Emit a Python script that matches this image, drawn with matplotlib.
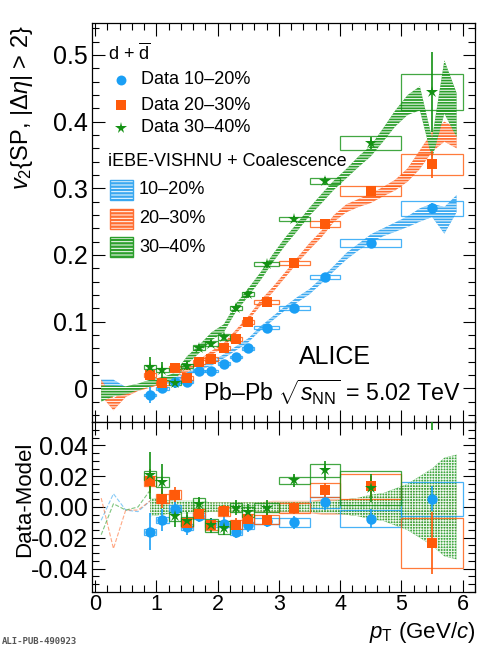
import numpy as np
import matplotlib
matplotlib.use('Agg')
import matplotlib.pyplot as plt
from matplotlib.patches import Rectangle
from matplotlib.ticker import MultipleLocator, FormatStrFormatter

plt.rcParams['font.family'] = 'Liberation Sans'
plt.rcParams['mathtext.fontset'] = 'custom'
plt.rcParams['mathtext.rm'] = 'Liberation Sans'
plt.rcParams['mathtext.it'] = 'Liberation Sans:italic'
plt.rcParams['mathtext.bf'] = 'Liberation Sans:bold'
plt.rcParams['hatch.linewidth'] = 0.7

# data points (pT bin centres and edges)
pt = [0.9, 1.1, 1.3, 1.5, 1.7, 1.9, 2.1, 2.3, 2.5, 2.8, 3.25, 3.75, 4.5, 5.5]
pt_lo = [0.8, 1.0, 1.2, 1.4, 1.6, 1.8, 2.0, 2.2, 2.4, 2.6, 3.0, 3.5, 4.0, 5.0]
pt_hi = [1.0, 1.2, 1.4, 1.6, 1.8, 2.0, 2.2, 2.4, 2.6, 3.0, 3.5, 4.0, 5.0, 6.0]

v2_1020 = [-0.01, 0.0, 0.01, 0.01, 0.026, 0.026, 0.037, 0.047, 0.06, 0.091, 0.12, 0.167, 0.218, 0.27]
stat_1020 = [0.012, 0.007, 0.005, 0.005, 0.004, 0.004, 0.004, 0.004, 0.004, 0.004, 0.004, 0.005, 0.006, 0.008]
syst_1020 = [0.002, 0.002, 0.002, 0.002, 0.002, 0.002, 0.002, 0.002, 0.002, 0.002, 0.003, 0.0035, 0.0055, 0.011]

v2_2030 = [0.02, 0.0075, 0.031, 0.015, 0.039, 0.044, 0.061, 0.074, 0.10, 0.13, 0.1875, 0.246, 0.296, 0.336]
stat_2030 = [0.008, 0.006, 0.005, 0.005, 0.004, 0.004, 0.004, 0.004, 0.004, 0.004, 0.004, 0.005, 0.007, 0.02]
syst_2030 = [0.003, 0.003, 0.003, 0.003, 0.003, 0.003, 0.003, 0.003, 0.003, 0.003, 0.003, 0.0045, 0.008, 0.016]

v2_3040 = [0.0315, 0.027, 0.008, 0.033, 0.061, 0.067, 0.077, 0.121, 0.141, 0.186, 0.254, 0.311, 0.368, 0.444]
stat_3040 = [0.015, 0.012, 0.007, 0.006, 0.005, 0.005, 0.005, 0.005, 0.005, 0.005, 0.004, 0.006, 0.009, 0.06]
syst_3040 = [0.003, 0.003, 0.003, 0.003, 0.004, 0.004, 0.004, 0.003, 0.003, 0.003, 0.0025, 0.004, 0.011, 0.027]

# iEBE-VISHNU + coalescence
model_pt = [0.1, 0.3, 0.5, 0.7, 0.9, 1.1, 1.3, 1.5, 1.7, 1.9, 2.1, 2.3, 2.5, 2.7, 2.9,
            3.1, 3.3, 3.5, 3.7, 3.9, 4.1, 4.3, 4.5, 4.7, 4.9, 5.1, 5.3, 5.5, 5.7, 5.9]
model_1020 = [0.004, 0.006, -0.002, 0.0, 0.005, 0.009, 0.012, 0.021, 0.03, 0.037, 0.048, 0.06, 0.072, 0.09, 0.105,
              0.12, 0.133, 0.145, 0.162, 0.18, 0.198, 0.212, 0.225, 0.234, 0.242, 0.25, 0.26, 0.267, 0.252, 0.277]
model_1020_err = [0.009, 0.007, 0.004, 0.003, 0.003, 0.003, 0.003, 0.003, 0.003, 0.003, 0.003, 0.003, 0.003, 0.003, 0.003,
                  0.003, 0.004, 0.004, 0.004, 0.004, 0.005, 0.005, 0.006, 0.006, 0.007, 0.008, 0.01, 0.01, 0.02, 0.013]
model_2030 = [0.001, -0.024, -0.008, 0.0, 0.005, 0.01, 0.02, 0.027, 0.04, 0.053, 0.065, 0.085, 0.105, 0.128, 0.148,
              0.17, 0.192, 0.213, 0.232, 0.255, 0.27, 0.278, 0.285, 0.295, 0.305, 0.32, 0.343, 0.37, 0.385, 0.375]
model_2030_err = [0.012, 0.009, 0.005, 0.004, 0.004, 0.003, 0.003, 0.003, 0.003, 0.003, 0.003, 0.003, 0.003, 0.004, 0.004,
                  0.004, 0.004, 0.005, 0.005, 0.005, 0.006, 0.006, 0.007, 0.007, 0.008, 0.01, 0.014, 0.015, 0.015, 0.015]
model_3040 = [-0.008, -0.004, -0.003, 0.002, 0.008, 0.012, 0.018, 0.042, 0.059, 0.078, 0.09, 0.121, 0.144, 0.168, 0.195,
              0.22, 0.242, 0.265, 0.285, 0.305, 0.322, 0.34, 0.356, 0.38, 0.405, 0.425, 0.435, 0.36, 0.452, 0.41]
model_3040_err = [0.012, 0.008, 0.006, 0.005, 0.005, 0.005, 0.005, 0.006, 0.006, 0.006, 0.006, 0.006, 0.006, 0.006, 0.006,
                  0.006, 0.006, 0.006, 0.007, 0.007, 0.007, 0.008, 0.008, 0.01, 0.012, 0.015, 0.018, 0.015, 0.04, 0.033]

# Data - Model
diff_1020 = [-0.0162, -0.0086, -0.001, -0.013, -0.006, -0.0113, -0.0108, -0.0162, -0.012, -0.009, -0.010, 0.003, -0.0076, 0.0054]
diff_2030 = [0.0169, 0.0054, 0.008, -0.0101, -0.0043, -0.0119, -0.0028, -0.0114, -0.0076, -0.0082, -0.0006, 0.0108, 0.0134, -0.0233]
diff_3040 = [0.0205, 0.0162, -0.0061, -0.0093, 0.0017, -0.012, -0.0134, -0.0004, -0.0032, -0.0004, 0.0173, 0.0238, 0.0125, 0.11]

# model uncertainty in lower panel (pT >= 0.9)
ratio_pt = model_pt[4:]
ratio_err_1020 = [0.003, 0.002, 0.002, 0.002, 0.002, 0.002, 0.002, 0.002, 0.002, 0.002, 0.002, 0.002, 0.002, 0.003,
                  0.003, 0.003, 0.004, 0.004, 0.005, 0.006, 0.008, 0.01, 0.012, 0.014, 0.018, 0.016]
ratio_err_2030 = [0.004, 0.003, 0.003, 0.003, 0.003, 0.003, 0.003, 0.003, 0.003, 0.003, 0.004, 0.004, 0.004, 0.004,
                  0.005, 0.005, 0.005, 0.006, 0.007, 0.008, 0.01, 0.012, 0.015, 0.015, 0.016, 0.016]
ratio_err_3040 = [0.006, 0.005, 0.004, 0.004, 0.004, 0.003, 0.003, 0.003, 0.003, 0.003, 0.003, 0.003, 0.003, 0.003,
                  0.004, 0.004, 0.005, 0.006, 0.008, 0.009, 0.012, 0.015, 0.02, 0.025, 0.032, 0.034]
# low-pT model curves in lower panel
low_pt = [0.1, 0.3, 0.5, 0.7, 0.9]
low_1020 = [-0.0086, 0.0086, -0.002, -0.003, 0.004]
low_2030 = [0.0058, -0.027, -0.002, -0.002, 0.004]
low_3040 = [-0.018, 0.0021, -0.002, 0.0, 0.011]

c_blue = '#1a9ff5'
c_orange = '#ff5a0a'
c_green = '#139113'
b_blue = '#3aa8f0'
b_orange = '#ff6e32'
b_green = '#2c9f2c'

fig = plt.figure(figsize=(5.02, 6.5), dpi=100)
ax1 = fig.add_axes([92 / 502, 1 - 422 / 650, 383 / 502, 399 / 650])
ax2 = fig.add_axes([92 / 502, 1 - 592 / 650, 383 / 502, 170 / 650])

series = [
    (v2_1020, stat_1020, syst_1020, diff_1020, model_1020, model_1020_err, ratio_err_1020, low_1020, c_blue, b_blue, 'o', 7.5),
    (v2_2030, stat_2030, syst_2030, diff_2030, model_2030, model_2030_err, ratio_err_2030, low_2030, c_orange, b_orange, 's', 7.5),
    (v2_3040, stat_3040, syst_3040, diff_3040, model_3040, model_3040_err, ratio_err_3040, low_3040, c_green, b_green, '*', 9),
]

# model bands
for (v2, st, sy, df, mod, mod_err, r_err, low, col, bcol, mk, ms) in series:
    mod = np.array(mod)
    mod_err = np.array(mod_err)
    ax1.fill_between(model_pt, mod - mod_err, mod + mod_err, facecolor=bcol, edgecolor='white',
                     hatch='------', linewidth=0, zorder=2)
    r_err = np.array(r_err)
    is_green = col == c_green
    ax2.fill_between(ratio_pt, -r_err, r_err, facecolor=bcol, edgecolor='white',
                     hatch='++++++' if is_green else '------', linewidth=0, zorder=2,
                     alpha=0.9 if is_green else 0.6)
    ax2.plot(low_pt, low, ls='--', lw=0.8, color=bcol, alpha=0.6, zorder=2)

# data
for (v2, st, sy, df, mod, mod_err, r_err, low, col, bcol, mk, ms) in series:
    for ax, vals in ((ax1, v2), (ax2, df)):
        for lo, hi, v, s in zip(pt_lo, pt_hi, vals, sy):
            ax.add_patch(Rectangle((lo, v - s), hi - lo, 2 * s, fill=False, edgecolor=col,
                                   linewidth=0.9, alpha=0.8, zorder=3))
        ax.errorbar(pt, vals, yerr=st, fmt=mk, color=col, ms=ms, elinewidth=1.2,
                    capsize=0, zorder=4, markeredgewidth=0)

# axes styling
for ax in (ax1, ax2):
    ax.set_xlim(-0.05, 6.2)
    ax.xaxis.set_major_locator(MultipleLocator(1))
    ax.xaxis.set_minor_locator(MultipleLocator(0.2))
    ax.tick_params(which='both', direction='in', top=True, right=True, labelsize=18, pad=3)
    ax.tick_params(which='major', length=9, width=0.8)
    ax.tick_params(which='minor', length=5, width=0.8)
    for sp in ax.spines.values():
        sp.set_linewidth(0.9)
ax2.tick_params(axis='x', labelsize=15.5, pad=1.5)

ax1.set_ylim(-0.0505, 0.548)
ax1.yaxis.set_major_locator(MultipleLocator(0.1))
ax1.yaxis.set_minor_locator(MultipleLocator(0.02))
ax1.set_yticks([0, 0.1, 0.2, 0.3, 0.4, 0.5])
ax1.set_yticklabels(['0', '0.1', '0.2', '0.3', '0.4', '0.5'])
ax1.tick_params(labelbottom=False)

ax2.set_ylim(-0.0552, 0.0552)
ax2.yaxis.set_major_locator(MultipleLocator(0.02))
ax2.yaxis.set_minor_locator(MultipleLocator(0.005))
ax2.yaxis.set_major_formatter(FormatStrFormatter('%.2f'))

fig.text(22 / 502, 1 - 25 / 650, r'$v_{2}\{$SP, $|\Delta\eta|$ > 2$\}$', rotation=90,
         ha='center', va='top', fontsize=17)
fig.text(25 / 502, 1 - 442 / 650, 'Data-Model', rotation=90, ha='center', va='top', fontsize=16)
fig.text(475 / 502, 1 - 638 / 650, r'$p_{\mathrm{T}}$ (GeV/$c$)', ha='right', va='baseline', fontsize=16)

# legend drawn in axes coordinates
def axfrac(px, py):
    return (px - 92) / 383, (422 - py) / 399

t = ax1.transAxes
x0, y0 = axfrac(108, 53)
ax1.text(x0, y0, r'd + $\overline{\mathrm{d}}$', transform=t, fontsize=13, va='center', ha='left')
labels_data = ['Data 10\u201320%', 'Data 20\u201330%', 'Data 30\u201340%']
for (v2, st, sy, df, mod, mod_err, r_err, low, col, bcol, mk, ms), lab, py in zip(series, labels_data, [80, 105, 128]):
    xm, ym = axfrac(121, py)
    ax1.plot([xm], [ym], mk, color=col, ms=ms * 0.95, transform=t, markeredgewidth=0, clip_on=False)
    xt, yt = axfrac(141, py)
    ax1.text(xt, yt, lab, transform=t, fontsize=13, va='center', ha='left')

x0, y0 = axfrac(108, 162)
ax1.text(x0, y0, 'iEBE-VISHNU + Coalescence', transform=t, fontsize=13, va='center', ha='left')
labels_model = ['10\u201320%', '20\u201330%', '30\u201340%']
for (v2, st, sy, df, mod, mod_err, r_err, low, col, bcol, mk, ms), lab, py in zip(series, labels_model, [190, 218.5, 247]):
    xa, ya = axfrac(110, py + 10)
    w = 22.7 / 383
    h = 20 / 399
    ax1.add_patch(Rectangle((xa, ya), w, h, transform=t, facecolor=bcol, edgecolor='white',
                            hatch='-----', linewidth=0, zorder=5))
    ax1.add_patch(Rectangle((xa, ya), w, h, transform=t, fill=False, edgecolor=bcol,
                            linewidth=1.0, zorder=6))
    xt, yt = axfrac(139, py)
    ax1.text(xt, yt, lab, transform=t, fontsize=13, va='center', ha='left')

x0, y0 = axfrac(335, 357)
ax1.text(x0, y0, 'ALICE', transform=t, fontsize=18, va='center', ha='center')
x0, y0 = axfrac(461, 392)
ax1.text(x0, y0, 'Pb\u2013Pb ' + r'$\sqrt{s_{\mathrm{NN}}}$ = 5.02 TeV',
         transform=t, fontsize=16.7, va='center', ha='right')

fig.text(2 / 502, 1 - 642 / 650, 'ALI-PUB-490923', fontsize=6.5, family='DejaVu Sans Mono',
         color='#555555', weight='bold', va='center', ha='left')

fig.savefig('out.png', dpi=100)
